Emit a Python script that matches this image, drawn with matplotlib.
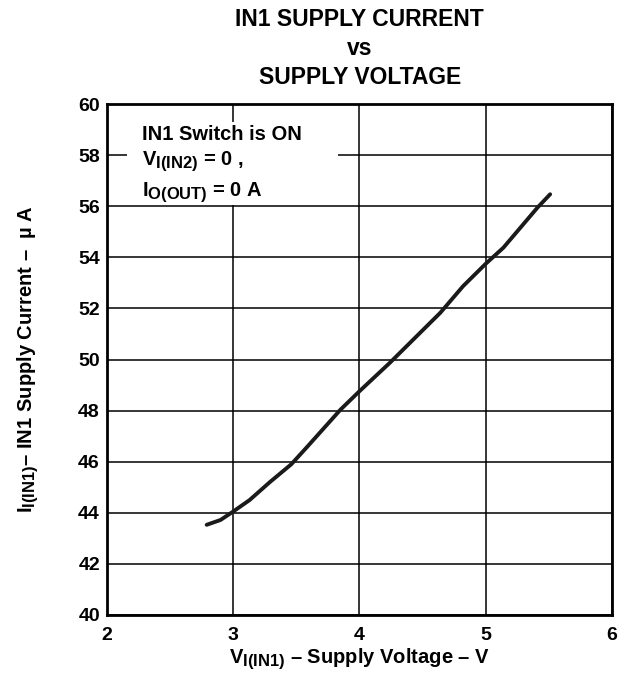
import matplotlib
matplotlib.use("Agg")
import matplotlib.pyplot as plt
from matplotlib.patches import Rectangle

# larger subscripts, like the datasheet typesetting
try:
    import matplotlib._mathtext as _mt
    _mt.SHRINK_FACTOR = 0.82
except Exception:
    pass

# Curve
voltage = [2.79, 2.90, 3.00, 3.13, 3.29, 3.46, 3.58, 3.85, 4.00, 4.24, 4.64, 4.82, 5.00, 5.14, 5.41, 5.51]
current = [43.53, 43.72, 44.05, 44.50, 45.20, 45.90, 46.55, 48.04, 48.76, 49.87, 51.83, 52.87, 53.75, 54.38, 55.95, 56.47]

x_ticks = [2, 3, 4, 5, 6]
y_ticks = [40, 42, 44, 46, 48, 50, 52, 54, 56, 58, 60]

plt.rcParams["font.family"] = ["Liberation Sans", "DejaVu Sans"]
plt.rcParams["font.weight"] = "bold"
plt.rcParams["mathtext.fontset"] = "custom"
plt.rcParams["mathtext.rm"] = "Liberation Sans:bold"
plt.rcParams["mathtext.bf"] = "Liberation Sans:bold"
plt.rcParams["mathtext.it"] = "Liberation Sans:bold"

fig = plt.figure(figsize=(6.29, 6.83), dpi=100)
ax = fig.add_axes([0.170, 0.0996, 0.803, 0.748])

ax.plot(voltage, current, color="#1a1a1a", linewidth=2.8, solid_capstyle="round", zorder=3)

ax.set_xlim(2, 6)
ax.set_ylim(40, 60)
ax.set_xticks(x_ticks)
ax.set_yticks(y_ticks)
ax.grid(True, color="black", linewidth=1.1)
ax.tick_params(length=0, labelsize=14)
ax.tick_params(axis="x", pad=9)
ax.tick_params(axis="y", pad=5)
for lbl in ax.get_xticklabels() + ax.get_yticklabels():
    lbl.set_fontweight("bold")
for sp in ax.spines.values():
    sp.set_linewidth(2)
    sp.set_zorder(5)

ax.set_xlabel(r"$\mathbf{V_{I(IN1)}}$ – Supply Voltage – V", fontsize=14.5, fontweight="bold", labelpad=2)
ax.set_ylabel(r"$\mathbf{I_{I(IN1)}}$– IN1 Supply Current –  µ A", fontsize=14.5, fontweight="bold", labelpad=27)

fig.text(0.572, 0.988, "IN1 SUPPLY CURRENT\nvs\nSUPPLY VOLTAGE", ha="center", va="top",
         fontsize=16.5, fontweight="bold", linespacing=1.33)

# white panel behind the conditions text (cuts the grid lines)
ax.add_patch(Rectangle((2.16, 56.05), 1.67, 3.25, facecolor="white", edgecolor="none", zorder=2.5))
ax.text(2.28, 59.2, "IN1 Switch is ON\n" + r"$\mathbf{V_{I(IN2)}}$ = 0 ," + "\n" + r"$\mathbf{I_{O(OUT)}}$ = 0 A",
        fontsize=14.5, fontweight="bold", va="top", ha="left", linespacing=1.42, zorder=4)

fig.savefig("out.png", dpi=100)
